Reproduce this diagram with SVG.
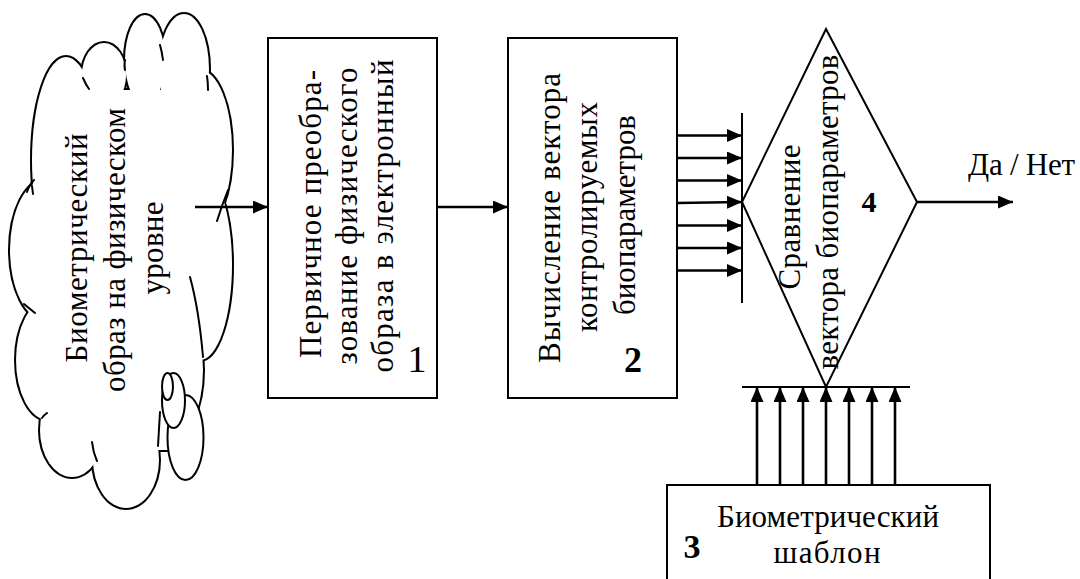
<svg xmlns="http://www.w3.org/2000/svg" width="1080" height="579" viewBox="0 0 1080 579" xml:lang="ru" lang="ru">
  <style>
    text { font-family: "Liberation Serif", "Times New Roman", serif; fill: #000; }
    .t { font-size: 31px; }
    .mid { text-anchor: middle; }
    .num { font-weight: bold; text-anchor: middle; }
    .box { fill: #fff; stroke: #000; stroke-width: 2; }
    .wire { stroke: #000; stroke-width: 2.6; fill: none; }
    .bar { stroke: #000; stroke-width: 2; fill: none; }
    .edge { fill: none; stroke: #000; stroke-width: 4; }
    .fill { fill: #fff; stroke: none; }
    .crease { fill: none; stroke: #000; stroke-width: 2; stroke-linecap: round; }
    .bubble { fill: #fff; stroke: #000; stroke-width: 2; }
  </style>
  <defs>
    <marker id="ah" viewBox="0 0 15 13" refX="15" refY="6.5" markerWidth="15" markerHeight="13" markerUnits="userSpaceOnUse" orient="auto">
      <path d="M0,0 L15,6.5 L0,13 z" fill="#000"/>
    </marker>
    <!-- lobes of the cloud outline (drawn twice: thick stroke, then white fill) -->
    <g id="lobes">
      <ellipse cx="66" cy="160" rx="34" ry="103"/>
      <ellipse cx="104" cy="75" rx="22" ry="32"/>
      <ellipse cx="145" cy="60" rx="20" ry="45"/>
      <ellipse cx="184" cy="69" rx="25" ry="55"/>
      <ellipse cx="200" cy="150" rx="32" ry="80"/>
      <ellipse cx="200" cy="265" rx="32" ry="95"/>
      <ellipse cx="170" cy="370" rx="33" ry="70"/>
      <ellipse cx="126" cy="460" rx="33" ry="48"/>
      <ellipse cx="72" cy="430" rx="32" ry="47"/>
      <ellipse cx="48" cy="360" rx="32" ry="60"/>
      <ellipse cx="45" cy="250" rx="35" ry="70"/>
      <rect x="50" y="90" width="130" height="360"/>
    </g>
  </defs>

  <rect width="1080" height="579" fill="#fff"/>

  <!-- cloud: biometric image at the physical level -->
  <g id="cloud">
    <use href="#lobes" class="edge"/>
    <use href="#lobes" class="fill"/>
    <path class="crease" d="M27,192 Q29,185 34,180 M33,194 L32,186
             M89,89 Q86,85 83,78 M125,70 Q124,65 125,60 M163,60 Q162,52 160,45
             M208,90 Q208,82 207,76 M217,221 Q222,205 228,190
             M190,277 Q199,310 203,357 M158,446 Q159,430 160,412
             M92,442 Q93,452 97,461 M42,418 Q44,415 47,413 M24,304 Q30,309 35,313"/>
    <ellipse class="bubble" cx="185.5" cy="437.5" rx="18" ry="42.5"/>
    <ellipse class="bubble" cx="173.5" cy="400.5" rx="11.5" ry="27.5"/>
    <ellipse class="bubble" cx="167.5" cy="386.5" rx="5.5" ry="13.5"/>
    <text class="t mid" textLength="229" lengthAdjust="spacing" transform="translate(87,248) rotate(-90)">Биометрический</text>
    <text class="t mid" textLength="284" lengthAdjust="spacing" transform="translate(125,250) rotate(-90)">образ на физическом</text>
    <text class="t mid" textLength="93" lengthAdjust="spacing" transform="translate(163,248) rotate(-90)">уровне</text>
  </g>

  <!-- block 1: primary conversion -->
  <g id="block1">
    <rect class="box" x="268" y="38" width="169" height="360"/>
    <text class="t mid" textLength="288" lengthAdjust="spacing" transform="translate(321,214) rotate(-90)">Первичное преобра-</text>
    <text class="t mid" textLength="297" lengthAdjust="spacing" transform="translate(357,216) rotate(-90)">зование физического</text>
    <text class="t mid" textLength="313" lengthAdjust="spacing" transform="translate(393,216) rotate(-90)">образа в электронный</text>
    <text class="mid" x="417" y="372" font-size="38">1</text>
  </g>

  <!-- block 2: feature vector computation -->
  <g id="block2">
    <rect class="box" x="508" y="38" width="169" height="360"/>
    <text class="t mid" textLength="290" lengthAdjust="spacing" transform="translate(560,218) rotate(-90)">Вычисление вектора</text>
    <text class="t mid" textLength="230" lengthAdjust="spacing" transform="translate(597,217) rotate(-90)">контролируемых</text>
    <text class="t mid" textLength="200" lengthAdjust="spacing" transform="translate(635,215) rotate(-90)">биопараметров</text>
    <text class="num" x="633" y="372" font-size="36">2</text>
  </g>

  <!-- block 4: comparison -->
  <g id="block4">
    <polygon class="box" points="826,29 917,202 826,387 742,202"/>
    <text class="t mid" textLength="145" lengthAdjust="spacing" transform="translate(800,217) rotate(-90)">Сравнение</text>
    <text class="t mid" textLength="315" lengthAdjust="spacing" transform="translate(838,212) rotate(-90)">вектора биопараметров</text>
    <text class="num" x="869" y="212" font-size="30">4</text>
  </g>

  <!-- block 3: template -->
  <g id="block3">
    <rect class="box" x="667" y="485" width="323" height="120"/>
    <text class="t mid" x="828" y="527" textLength="222" lengthAdjust="spacing">Биометрический</text>
    <text class="t mid" x="827" y="563" textLength="107" lengthAdjust="spacing">шаблон</text>
    <text class="num" x="692" y="558" font-size="34">3</text>
  </g>

  <!-- output label -->
  <g id="result">
    <text class="t" x="968" y="175" textLength="107" lengthAdjust="spacing">Да / Нет</text>
  </g>

  <!-- connectors -->
  <g id="connectors">
    <line class="wire" x1="195" y1="207" x2="268" y2="207" marker-end="url(#ah)"/>
    <line class="wire" x1="437" y1="207" x2="508" y2="207" marker-end="url(#ah)"/>
    <line class="bar" x1="742" y1="113" x2="742" y2="303"/>
    <line class="wire" x1="677" y1="135.5" x2="742" y2="135.5" marker-end="url(#ah)"/>
    <line class="wire" x1="677" y1="158" x2="742" y2="158" marker-end="url(#ah)"/>
    <line class="wire" x1="677" y1="180.5" x2="742" y2="180.5" marker-end="url(#ah)"/>
    <line class="wire" x1="677" y1="203" x2="742" y2="202" marker-end="url(#ah)"/>
    <line class="wire" x1="677" y1="225.5" x2="742" y2="225.5" marker-end="url(#ah)"/>
    <line class="wire" x1="677" y1="248" x2="742" y2="248" marker-end="url(#ah)"/>
    <line class="wire" x1="677" y1="270.5" x2="742" y2="270.5" marker-end="url(#ah)"/>
    <line class="bar" x1="742" y1="387" x2="910" y2="387"/>
    <line class="wire" x1="757" y1="485" x2="757" y2="387" marker-end="url(#ah)"/>
    <line class="wire" x1="780" y1="485" x2="780" y2="387" marker-end="url(#ah)"/>
    <line class="wire" x1="803" y1="485" x2="803" y2="387" marker-end="url(#ah)"/>
    <line class="wire" x1="826" y1="485" x2="826" y2="387" marker-end="url(#ah)"/>
    <line class="wire" x1="849" y1="485" x2="849" y2="387" marker-end="url(#ah)"/>
    <line class="wire" x1="872" y1="485" x2="872" y2="387" marker-end="url(#ah)"/>
    <line class="wire" x1="895" y1="485" x2="895" y2="387" marker-end="url(#ah)"/>
    <line class="wire" x1="917" y1="202" x2="1013" y2="202" marker-end="url(#ah)"/>
  </g>
</svg>
